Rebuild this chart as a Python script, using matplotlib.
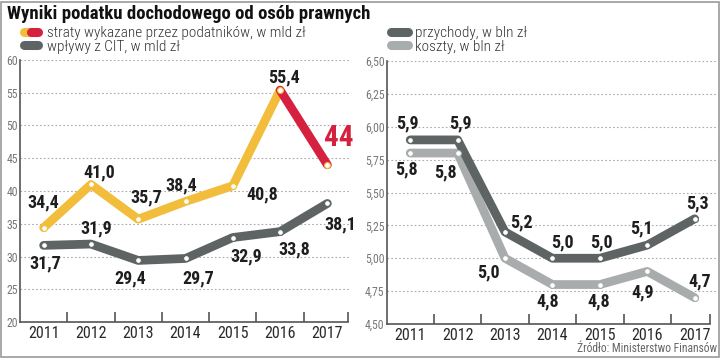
import matplotlib
matplotlib.use("Agg")
import matplotlib.pyplot as plt
from matplotlib.lines import Line2D
from matplotlib.patches import Rectangle

years = ["2011", "2012", "2013", "2014", "2015", "2016", "2017"]
straty = [34.4, 41.0, 35.7, 38.4, 40.8, 55.4, 44.0]
straty_labels = ["34,4", "41,0", "35,7", "38,4", "40,8", "55,4", "44"]
cit = [31.7, 31.9, 29.4, 29.7, 32.9, 33.8, 38.1]
cit_labels = ["31,7", "31,9", "29,4", "29,7", "32,9", "33,8", "38,1"]
przychody = [5.9, 5.9, 5.2, 5.0, 5.0, 5.1, 5.3]
przychody_labels = ["5,9", "5,9", "5,2", "5,0", "5,0", "5,1", "5,3"]
koszty = [5.8, 5.8, 5.0, 4.8, 4.8, 4.9, 4.7]
koszty_labels = ["5,8", "5,8", "5,0", "4,8", "4,8", "4,9", "4,7"]
left_yticks = [20, 25, 30, 35, 40, 45, 50, 55, 60]
right_yticks = [4.50, 4.75, 5.00, 5.25, 5.50, 5.75, 6.00, 6.25, 6.50]
right_ytick_labels = ["4,50", "4,75", "5,00", "5,25", "5,50", "5,75", "6,00", "6,25", "6,50"]

YELLOW = "#F2BD3B"
RED = "#D6203F"
DARK = "#5E6364"
LIGHT = "#A8ACAC"
TXT = "#1E1E1E"

FONT = ["Roboto Condensed", "DejaVu Sans"]
plt.rcParams["font.family"] = FONT

W, H = 720, 358
fig = plt.figure(figsize=(W / 100, H / 100), dpi=100)
fig.patch.set_facecolor("white")


def px(x0, y_top, x1, y_bot):
    return [x0 / W, 1 - y_bot / H, (x1 - x0) / W, (y_bot - y_top) / H]


LW = 6.3
LBL = 13


def style_axes(ax, ylim, yticks, ylabels, xmax, spine_end):
    ax.set_xlim(-0.5, xmax)
    ax.set_ylim(*ylim)
    for s in ["top", "right"]:
        ax.spines[s].set_visible(False)
    for s in ["left", "bottom"]:
        ax.spines[s].set_color("#555555")
        ax.spines[s].set_linewidth(1.2)
    ax.spines["bottom"].set_bounds(-0.5, spine_end)
    ax.set_yticks(yticks)
    ax.set_yticklabels(ylabels, color="#777777", fontsize=8.5)
    ax.tick_params(axis="y", length=0, pad=1.5)
    ax.set_xticks(range(len(years)))
    ax.set_xticklabels(years, fontsize=11.5, color="#2A2A2A")
    ax.tick_params(axis="x", length=0, pad=3)
    ax.set_xticks([i + 0.5 for i in range(6)] + [spine_end], minor=True)
    ax.tick_params(axis="x", which="minor", direction="in", length=7,
                   width=1.2, color="#555555")
    for t in yticks[1:]:
        ax.axhline(t, color="#AAAAAA", lw=0.8, ls=(0, (1.5, 2)), zorder=0)


def series(ax, x, y, color, z=3):
    ax.plot(x, y, color=color, lw=LW, solid_capstyle="round",
            solid_joinstyle="round", zorder=z)


def markers(ax, x, y, color, z=5):
    ax.plot(x, y, ls="none", marker="o", ms=4.2, mfc="white", mec=color,
            mew=0.8, zorder=z)


def labels(ax, x, y, texts, offsets, **kw):
    for xi, yi, t, off in zip(x, y, texts, offsets):
        ax.annotate(t, (xi, yi), xytext=off, textcoords="offset points",
                    ha="center", va="center", zorder=6, **kw)


xs = list(range(len(years)))

# ---------------- left chart ----------------
ax1 = fig.add_axes(px(20, 60, 351, 322))
style_axes(ax1, (20, 60), left_yticks, [str(t) for t in left_yticks], 6.5, 6.43)
series(ax1, xs, cit, DARK)
series(ax1, xs[:6], straty[:6], YELLOW)
series(ax1, xs[5:], straty[5:], RED, z=4)
markers(ax1, xs, cit, DARK)
markers(ax1, xs, straty, YELLOW)

s_off = [(0, 18), (6, 9), (6, 16), (-3, 11.5), (21, -6.5), (3, 9.5)]
labels(ax1, xs[:6], straty[:6], straty_labels[:6], s_off,
       fontsize=LBL, fontweight="bold", color=TXT)
labels(ax1, xs[6:], straty[6:], straty_labels[6:], [(8, 19)],
       fontsize=21, fontweight="bold", color=RED)
c_off = [(1.5, -13), (3.5, 11), (-6, -13), (9.4, -14.4), (9.4, -13.7), (10, -13), (9.4, -15)]
labels(ax1, xs, cit, cit_labels, c_off, fontsize=LBL, fontweight="bold", color=TXT)

# ---------------- right chart ----------------
ax2 = fig.add_axes(px(386.5, 61, 716, 324))
style_axes(ax2, (4.5, 6.5), right_yticks, right_ytick_labels, 6.45, 6.32)
series(ax2, xs, koszty, LIGHT)
series(ax2, xs, przychody, DARK)
markers(ax2, xs, koszty, LIGHT)
markers(ax2, xs, przychody, DARK)

p_off = [(-2, 12), (2, 12), (12, 7), (7, 11.5), (1.5, 11.5), (-4, 12), (2, 11)]
labels(ax2, xs, przychody, przychody_labels, p_off,
       fontsize=LBL, fontweight="bold", color=TXT)
k_off = [(-3, -12), (-9, -14), (-12, -10), (-3.6, -12), (-0.7, -12), (-3, -15), (3.6, 12)]
labels(ax2, xs, koszty, koszty_labels, k_off,
       fontsize=LBL, fontweight="bold", color=TXT)

# ---------------- titles / legends ----------------
fig.text(7 / W, 1 - 14 / H, "Wyniki podatku dochodowego od osób prawnych",
         fontsize=13.5, fontweight="bold", color="#111111", va="center", ha="left")


def pill(x0, x1, y, color):
    fig.add_artist(Line2D([x0 / W, x1 / W], [1 - y / H, 1 - y / H], color=color,
                          lw=6.5, solid_capstyle="round", transform=fig.transFigure))


def legend_text(x, y_base, s):
    fig.text(x / W, 1 - y_base / H, s, fontsize=11, fontweight="light",
             color="#333333", va="baseline", ha="left")


pill(23.5, 30.5, 32, YELLOW)
pill(31, 37.5, 32, RED)
pill(23.5, 37.5, 45, DARK)
legend_text(47, 37.5, "straty wykazane przez podatników, w mld zł")
legend_text(47, 51.5, "wpływy z CIT, w mld zł")

pill(391.5, 407.5, 32, DARK)
pill(391.5, 407.5, 45, LIGHT)
legend_text(415, 37.5, "przychody, w bln zł")
legend_text(415, 51.5, "koszty, w bln zł")

fig.text(717 / W, 1 - 349 / H, "Źródło: Ministerstwo Finansów",
         fontsize=8.3, color="#666666", va="center", ha="right")

fig.add_artist(Rectangle((0.5 / W, 1.0 / H), 1 - 1.5 / W, 1 - 2.5 / H,
                         transform=fig.transFigure, fill=False,
                         edgecolor="#999999", lw=1.2))

fig.savefig("out.png", dpi=100, facecolor="white")
